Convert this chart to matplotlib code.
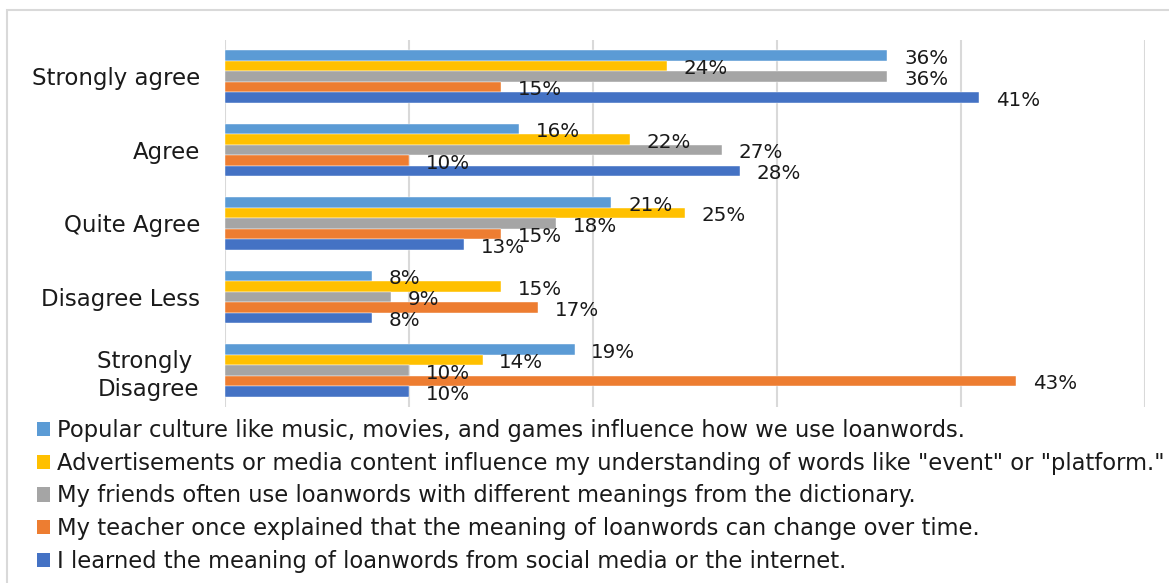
import matplotlib
matplotlib.use('Agg')
import matplotlib.pyplot as plt
import numpy as np
from matplotlib.patches import Rectangle, Patch

# Data (percent)
categories = ['Strongly agree', 'Agree', 'Quite Agree', 'Disagree Less', 'Strongly \nDisagree']
series_names = [
    'Popular culture like music, movies, and games influence how we use loanwords.',
    'Advertisements or media content influence my understanding of words like "event" or "platform."',
    'My friends often use loanwords with different meanings from the dictionary.',
    'My teacher once explained that the meaning of loanwords can change over time.',
    'I learned the meaning of loanwords from social media or the internet.',
]
popular = [36, 16, 21, 8, 19]
adverts = [24, 22, 25, 15, 14]
friends = [36, 27, 18, 9, 10]
teacher = [15, 10, 15, 17, 43]
social = [41, 28, 13, 8, 10]
series = [popular, adverts, friends, teacher, social]
colors = ['#5B9BD5', '#FFC000', '#A5A5A5', '#ED7D31', '#4472C4']

plt.rcParams['font.family'] = ['DejaVu Sans']
W, H = 1169, 583
fig = plt.figure(figsize=(W / 100, H / 100), dpi=100)

# chart border
fig.patches.append(Rectangle((7 / W, -0.1), 1.2, 1 - 10 / H + 0.1, transform=fig.transFigure,
                             fill=False, edgecolor='#D9D9D9', linewidth=1.5))

ax = fig.add_axes([225 / W, 1 - 407 / H, (1145 - 225) / W, (407 - 39.5) / H])

h = 10.5 / 73.5
y0 = np.arange(len(categories))
for j, (vals, col) in enumerate(zip(series, colors)):
    ys = y0 + (j - 2) * h
    ax.barh(ys, vals, height=h, color=col, edgecolor='white', linewidth=0.3, zorder=3)
    for y, v in zip(ys, vals):
        ax.annotate(f'{v}%', (v, y), xytext=(12, -2), textcoords='offset points',
                    ha='left', va='center', fontsize=14.3, color='#1a1a1a', zorder=4)

ax.set_xlim(0, 50)
ax.set_ylim(4.5, -0.5)
ax.set_xticks(np.arange(0, 51, 10))
ax.set_xticklabels([])
ax.grid(axis='x', color='#D9D9D9', linewidth=1.5, zorder=0)
ax.tick_params(axis='x', length=0)
ax.tick_params(axis='y', length=0, pad=18, labelsize=16.5)
ax.set_yticks(y0)
ax.set_yticklabels(categories, multialignment='center', linespacing=1.3, color='#1a1a1a')
for s in ax.spines.values():
    s.set_visible(False)

handles = [Patch(facecolor=c) for c in colors]
leg = fig.legend(handles, series_names, loc='upper left', bbox_to_anchor=(37 / W, 1 - 419 / H),
                 frameon=False, fontsize=16.3, handlelength=0.58, handleheight=0.58,
                 handletextpad=0.32, labelspacing=0.43, borderaxespad=0, borderpad=0)
for t in leg.get_texts():
    t.set_color('#1a1a1a')

fig.savefig('out.png', dpi=100)
